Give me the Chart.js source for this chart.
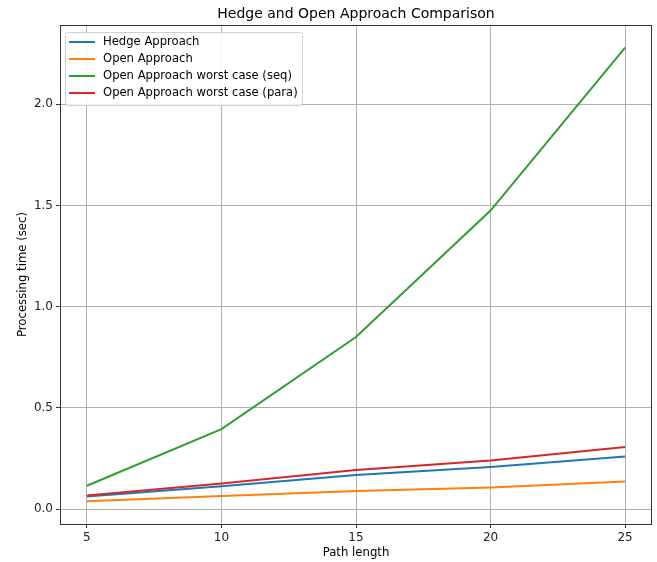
<!DOCTYPE html>
<html>
<head>
<meta charset="utf-8">
<script src="https://cdn.jsdelivr.net/npm/chart.js@4.4.1/dist/chart.umd.min.js"></script>
<style>
  html, body { margin: 0; padding: 0; background: #fff; }
  #wrap { width: 657px; height: 562px; }
</style>
</head>
<body>
<div id="wrap"><canvas id="cmp"></canvas></div>
<script>
// values
const pathLengths = [5, 10, 15, 20, 25];
const hedge = [0.062, 0.112, 0.168, 0.208, 0.260];
const openApp = [0.038, 0.064, 0.089, 0.106, 0.136];
const openWorstSeq = [0.115, 0.395, 0.850, 1.475, 2.280];
const openWorstPara = [0.067, 0.126, 0.193, 0.240, 0.307];
const xTicks = [5, 10, 15, 20, 25];
const yTicks = [0.0, 0.5, 1.0, 1.5, 2.0];

const FONT = "'DejaVu Sans', sans-serif";

function pts(vals) {
    return pathLengths.map((x, i) => ({ x: x, y: vals[i] }));
}

// frame, title and legend drawn matplotlib-style
const decor = {
    id: 'decor',
    afterDatasetsDraw(chart) {
        const ctx = chart.ctx;
        const a = chart.chartArea;
        ctx.save();
        ctx.strokeStyle = '#333';
        ctx.lineWidth = 1;
        ctx.strokeRect(a.left + 0.5, a.top + 0.5, a.right - a.left - 1, a.bottom - a.top);

        // title
        ctx.fillStyle = '#000';
        ctx.font = '14px ' + FONT;
        ctx.textAlign = 'center';
        ctx.textBaseline = 'middle';
        ctx.fillText('Hedge and Open Approach Comparison', (a.left + a.right) / 2, 14);

        // legend
        const ds = chart.data.datasets;
        const lx = a.left + 5, ly = a.top + 7, lw = 237, lh = 73;
        ctx.fillStyle = 'rgba(255,255,255,0.85)';
        ctx.strokeStyle = '#d0d0d0';
        ctx.beginPath();
        ctx.roundRect(lx + 0.5, ly + 0.5, lw, lh, 3);
        ctx.fill();
        ctx.stroke();
        ctx.font = '11.6px ' + FONT;
        ctx.textAlign = 'left';
        ds.forEach((d, i) => {
            const y = ly + 10 + i * 17;
            ctx.strokeStyle = d.borderColor;
            ctx.lineWidth = 2;
            ctx.beginPath();
            ctx.moveTo(lx + 4, y);
            ctx.lineTo(lx + 30, y);
            ctx.stroke();
            ctx.fillStyle = '#000';
            ctx.fillText(d.label, lx + 38, y);
        });
        ctx.restore();
    }
};

const ctx = document.getElementById('cmp').getContext('2d');
new Chart(ctx, {
    type: 'line',
    data: {
        datasets: [
            { label: 'Hedge Approach', data: pts(hedge), borderColor: '#1f77b4', order: 4 },
            { label: 'Open Approach', data: pts(openApp), borderColor: '#ff7f0e', order: 3 },
            { label: 'Open Approach worst case (seq)', data: pts(openWorstSeq), borderColor: '#2ca02c', order: 2 },
            { label: 'Open Approach worst case (para)', data: pts(openWorstPara), borderColor: '#d62728', order: 1 }
        ]
    },
    options: {
        responsive: true,
        maintainAspectRatio: false,
        animation: false,
        events: [],
        elements: {
            point: { radius: 0 },
            line: { borderWidth: 2, tension: 0, fill: false }
        },
        layout: { padding: { left: 0, right: 5, top: 25, bottom: 0 } },
        plugins: {
            legend: { display: false },
            title: { display: false },
            tooltip: { enabled: false }
        },
        scales: {
            x: {
                type: 'linear',
                min: 4,
                max: 26,
                afterBuildTicks: s => { s.ticks = xTicks.map(v => ({ value: v })); },
                afterFit: s => { s.height = 38; },
                grid: { color: '#b0b0b0', tickColor: '#333', tickLength: 4, drawOnChartArea: true },
                border: { display: false },
                ticks: { color: '#222', font: { family: FONT, size: 12 }, padding: 3, maxRotation: 0 },
                title: { display: true, text: 'Path length', color: '#000', font: { family: FONT, size: 11.7 }, padding: { top: 0, bottom: 2 } }
            },
            y: {
                type: 'linear',
                min: -0.074,
                max: 2.392,
                afterBuildTicks: s => { s.ticks = yTicks.map(v => ({ value: v })); },
                afterFit: s => { s.width = 60; },
                grid: { color: '#b0b0b0', tickColor: '#333', tickLength: 4 },
                border: { display: false },
                ticks: {
                    color: '#222',
                    font: { family: FONT, size: 12 },
                    padding: 3,
                    callback: v => v.toFixed(1)
                },
                title: { display: true, text: 'Processing time (sec)', color: '#000', font: { family: FONT, size: 11.7 }, padding: { top: 16, bottom: 4 } }
            }
        }
    },
    plugins: [decor]
});
</script>
</body>
</html>
